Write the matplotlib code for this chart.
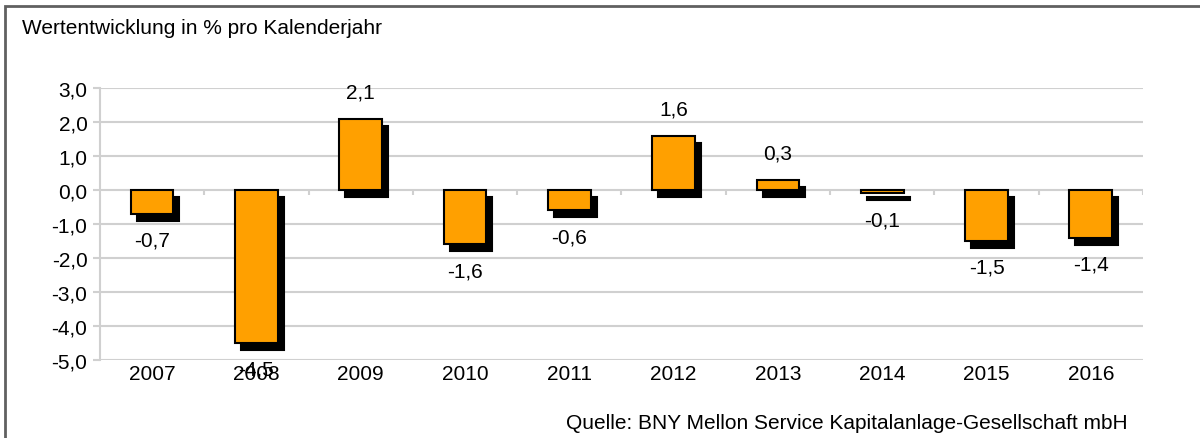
import matplotlib.pyplot as plt
import matplotlib.transforms as mtransforms
from matplotlib.patches import Rectangle
import numpy as np

years = ["2007", "2008", "2009", "2010", "2011", "2012", "2013", "2014", "2015", "2016"]
returns = [-0.7, -4.5, 2.1, -1.6, -0.6, 1.6, 0.3, -0.1, -1.5, -1.4]
y_ticks = [3.0, 2.0, 1.0, 0.0, -1.0, -2.0, -3.0, -4.0, -5.0]

plt.rcParams["font.family"] = ["Liberation Sans", "DejaVu Sans"]
font_size = 15

figure = plt.figure(figsize=(12, 4.39), dpi=100)
ax = figure.add_axes([0.0833, 0.1777, 0.8692, 0.6196])

x = np.arange(len(years))
grid_color = "#d0d0d0"

# shadow: same bars shifted right and down
shadow = ax.transData + mtransforms.ScaledTranslation(6 / 100, -7 / 100, figure.dpi_scale_trans)
ax.bar(x, returns, width=0.41, color="black", edgecolor="black", linewidth=1.5, transform=shadow, zorder=2)
ax.bar(x, returns, width=0.41, color="#ffa000", edgecolor="black", linewidth=1.5, zorder=3)

for xi, value in zip(x, returns):
    offset = 19 if value >= 0 else -19
    ax.annotate(f"{value:.1f}".replace(".", ","), (xi, value), xytext=(0, offset),
                textcoords="offset points", ha="center", va="center", fontsize=font_size, zorder=4)

ax.set_xlim(-0.5, len(years) - 0.5)
ax.set_ylim(-5.0, 3.0)
ax.set_yticks(y_ticks)
ax.set_yticklabels([f"{t:.1f}".replace(".", ",") for t in y_ticks], fontsize=font_size)
ax.set_xticks(x)
ax.set_xticklabels(years, fontsize=font_size)
ax.tick_params(axis="x", length=0, pad=3)
ax.tick_params(axis="y", length=5, color=grid_color, width=1.5, pad=4)

ax.grid(axis="y", color=grid_color, linewidth=1.5, zorder=0)
ax.set_axisbelow(True)
for side in ["top", "right", "bottom"]:
    ax.spines[side].set_visible(False)
ax.spines["left"].set_color(grid_color)
ax.spines["left"].set_linewidth(1.5)

# category tick marks on the zero line
ax.vlines(np.arange(0.5, len(years)), -0.15, 0, color=grid_color, linewidth=1.5, zorder=1)

figure.text(0.018, 0.936, "Wertentwicklung in % pro Kalenderjahr", fontsize=font_size, va="center")
figure.text(0.94, 0.0364, "Quelle: BNY Mellon Service Kapitalanlage-Gesellschaft mbH",
            fontsize=font_size, ha="right", va="center")

figure.add_artist(Rectangle((0.0045, -0.1), 1.2, 1.083, transform=figure.transFigure,
                            fill=False, edgecolor="#606060", linewidth=2))

figure.savefig("out.png", dpi=100)
plt.close(figure)
